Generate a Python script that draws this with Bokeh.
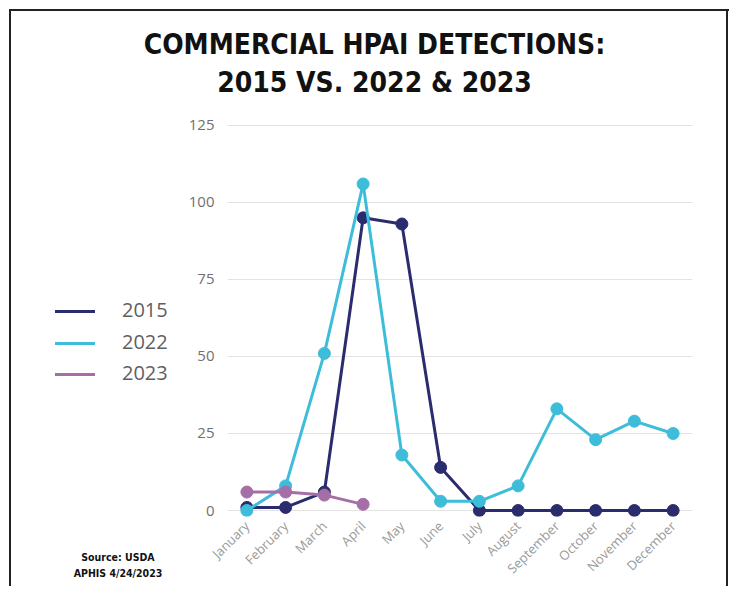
import math
from bokeh.plotting import figure
from bokeh.layouts import column
from bokeh.models import FactorRange, Range1d, FixedTicker, Div
from bokeh.embed import file_html
from bokeh.resources import INLINE

months = ["January", "February", "March", "April", "May", "June", "July",
          "August", "September", "October", "November", "December"]
y2015 = [1, 1, 6, 95, 93, 14, 0, 0, 0, 0, 0, 0]
y2022 = [0, 8, 51, 106, 18, 3, 3, 8, 33, 23, 29, 25]
months_2023 = ["January", "February", "March", "April"]
y2023 = [6, 6, 5, 2]
y_ticks = [0, 25, 50, 75, 100, 125]
series_names = ["2015", "2022", "2023"]
title_lines = ["COMMERCIAL HPAI DETECTIONS:", "2015 VS. 2022 &amp; 2023"]
source_lines = ["Source: USDA", "APHIS 4/24/2023"]

c2015 = "#2b2c6e"
c2022 = "#3dbdd9"
c2023 = "#a66ea6"
colors = [c2015, c2022, c2023]

W, H = 729, 586
border_css = ("linear-gradient(#222,#222) 9px 9px / 2px 100% no-repeat, "
              "linear-gradient(#222,#222) 9px 9px / 100% 2px no-repeat, "
              "linear-gradient(#222,#222) 726px 9px / 2px 100% no-repeat")
p = figure(width=W, height=H, x_range=FactorRange(*months), y_range=Range1d(-1.94, 131.46),
           output_backend="svg", toolbar_location=None, title=None,
           min_border_left=227, min_border_right=37, min_border_top=105, min_border_bottom=68,
           styles={"background": border_css})
p.outline_line_color = None
p.background_fill_color = "white"
p.border_fill_alpha = 0

p.xgrid.grid_line_color = None
p.ygrid.grid_line_color = "#e3e3e3"
p.ygrid.grid_line_width = 1.2
p.yaxis.ticker = FixedTicker(ticks=y_ticks)
for ax in (p.xaxis[0], p.yaxis[0]):
    ax.axis_line_color = None
    ax.major_tick_line_color = None
    ax.minor_tick_line_color = None
    ax.major_tick_out = 0
    ax.major_tick_in = 0
    ax.major_label_text_font = "Open Sans"
p.yaxis.major_label_text_font_size = "15px"
p.yaxis.major_label_text_color = "#707070"
p.yaxis.major_label_standoff = 13
p.xaxis.major_label_text_font_size = "13px"
p.xaxis.major_label_text_color = "#9a9a9a"
p.xaxis.major_label_orientation = math.pi / 4
p.xaxis.major_label_standoff = 7

p.line(months, y2015, line_color=c2015, line_width=3)
p.scatter(months, y2015, size=12, fill_color=c2015, line_color=c2015)
p.line(months, y2022, line_color=c2022, line_width=3)
p.scatter(months, y2022, size=12, fill_color=c2022, line_color=c2022)
p.line(months_2023, y2023, line_color=c2023, line_width=3)
p.scatter(months_2023, y2023, size=12, fill_color=c2023, line_color=c2023)

cond_font = "'DejaVu Sans Condensed', 'DejaVu Sans', sans-serif"
ttl = Div(text="<br>".join(title_lines), width=709, height=76, margin=(-560, 0, 0, 20),
          styles={"font-family": cond_font, "font-weight": "bold", "font-size": "28px",
                  "line-height": "38px", "text-align": "center", "color": "#111111"})

rows = []
for name, col in zip(series_names, colors):
    rows.append('<div style="height:31.5px;line-height:31.5px;white-space:nowrap">'
                '<span style="display:inline-block;width:40px;height:3px;background:%s;'
                'vertical-align:middle;margin-right:27px"></span>%s</div>' % (col, name))
leg = Div(text="".join(rows), width=130, height=95, margin=(192, 0, 0, 55),
          styles={"font-family": "'Open Sans', sans-serif", "font-size": "20px",
                  "color": "#5f5f5f"})

src = Div(text="<br>".join(source_lines), width=100, height=32, margin=(160, 0, 0, 68),
          styles={"font-family": cond_font, "font-weight": "bold", "font-size": "10.5px",
                  "line-height": "16px", "text-align": "center", "color": "#111111"})

layout = column(p, ttl, leg, src, spacing=0)
open("out.html", "w").write(file_html(layout, INLINE))
